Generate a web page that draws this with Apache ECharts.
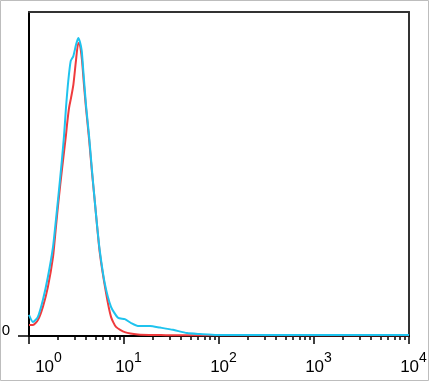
<!DOCTYPE html>
<html>
<head>
<meta charset="utf-8">
<script src="https://cdn.jsdelivr.net/npm/echarts@6/dist/echarts.min.js"></script>
<style>
html,body{margin:0;padding:0;background:#fff;}
#chart{width:429px;height:381px;}
</style>
</head>
<body>
<div id="chart"></div>
<script>
// Fluorescence intensity (x) and event count (y, % of axis height)
const cyanX = [1.0, 1.10, 1.24, 1.40, 1.58, 1.79, 1.92, 2.02, 2.22, 2.34, 2.45, 2.59, 2.75, 2.93, 3.12, 3.30, 3.44, 3.59, 3.73, 3.98, 4.28, 4.60, 4.91, 5.20, 5.55, 6.26, 7.30, 8.65, 10.2, 11.9, 14.0, 18.8, 23.9, 32.8, 46.0, 63.1, 95.3, 10000];
const cyanY = [6.5, 4.3, 5.9, 11.1, 18.2, 27.5, 35.8, 42.0, 54.3, 62.0, 70.4, 78.7, 84.9, 86.4, 89.8, 92.0, 90.7, 88.0, 81.8, 71.3, 62.0, 51.2, 42.0, 34.3, 26.5, 16.4, 9.0, 5.6, 5.2, 4.0, 3.1, 3.1, 2.6, 1.9, 0.9, 0.6, 0.3, 0.3];
const redX = [1.0, 1.10, 1.24, 1.40, 1.58, 1.79, 1.92, 2.05, 2.22, 2.45, 2.51, 2.64, 2.77, 2.93, 3.12, 3.30, 3.44, 3.61, 3.79, 3.98, 4.28, 4.60, 4.91, 5.55, 6.47, 7.30, 8.24, 10.2, 14.0, 23.9, 34.4, 10000];
const redY = [3.4, 3.4, 4.9, 9.0, 15.1, 24.4, 33.6, 42.0, 51.2, 62.0, 65.1, 70.4, 73.5, 77.5, 84.9, 90.4, 89.8, 85.2, 77.5, 70.4, 61.1, 50.6, 42.0, 25.9, 13.3, 5.9, 2.8, 1.2, 0.5, 0.3, 0.2, 0.2];
const majorTicks = [1, 10, 100, 1000, 10000];
const majorLabels = ['0', '1', '2', '3', '4'];
const minorTicks = [2, 3, 4, 5, 6, 7, 8, 9, 20, 30, 40, 50, 60, 70, 80, 90, 200, 300, 400, 500, 600, 700, 800, 900, 2000, 3000, 4000, 5000, 6000, 7000, 8000, 9000];
const yTicks = [0];
const yLabels = ['0'];

const pairs = (xs, ys) => xs.map((x, i) => [x, ys[i]]);
const font = 'Liberation Sans, Arial, sans-serif';

const chart = echarts.init(document.getElementById('chart'));
chart.setOption({
  animation: false,
  backgroundColor: '#fff',
  grid: { left: 29, right: 20, top: 12, bottom: 45, containLabel: false, outerBoundsMode: 'none' },
  graphic: [{
    type: 'rect', silent: true, z: 100,
    shape: { x: 0.5, y: 0.5, width: 428, height: 380 },
    style: { fill: 'none', stroke: '#bdbdbd', lineWidth: 1 }
  }],
  xAxis: [
    {
      type: 'log', logBase: 10, min: 1, max: 10000, position: 'bottom',
      axisLine: { show: true, onZero: false, lineStyle: { color: '#000', width: 2 } },
      axisTick: { show: true, inside: false, length: 8, customValues: majorTicks, lineStyle: { color: '#000', width: 1.5 } },
      axisLabel: {
        show: true, margin: 15, customValues: majorTicks,
        formatter: function (v) {
          const i = majorTicks.indexOf(v);
          const e = i >= 0 ? majorLabels[i] : '';
          return (i === 0 ? '{a0|10}' : '{a|10}') + '{s|' + e + '}';
        },
        rich: {
          a0: { fontFamily: font, fontSize: 17, color: '#000', padding: [8, 0, 0, 39], verticalAlign: 'bottom' },
          a: { fontFamily: font, fontSize: 17, color: '#000', padding: [8, 0, 0, 9], verticalAlign: 'bottom' },
          s: { fontFamily: font, fontSize: 14, color: '#000', verticalAlign: 'top' }
        }
      },
      splitLine: { show: false }, minorTick: { show: false }
    },
    {
      type: 'log', logBase: 10, min: 1, max: 10000, position: 'bottom',
      axisLine: { show: false, onZero: false },
      axisTick: { show: true, inside: false, length: 4, customValues: minorTicks, lineStyle: { color: '#000', width: 1.5 } },
      axisLabel: { show: false },
      splitLine: { show: false }
    },
    {
      type: 'log', logBase: 10, min: 1, max: 10000, position: 'top',
      axisLine: { show: true, onZero: false, lineStyle: { color: '#333', width: 2 } },
      axisTick: { show: false }, axisLabel: { show: false }, splitLine: { show: false }
    }
  ],
  yAxis: [
    {
      type: 'value', min: 0, max: 100, position: 'left',
      axisLine: { show: true, onZero: false, lineStyle: { color: '#000', width: 2 } },
      axisTick: { show: true, inside: false, length: 11, customValues: yTicks, lineStyle: { color: '#000', width: 1.5 } },
      axisLabel: {
        show: true, margin: 19, customValues: yTicks,
        formatter: function (v) { const i = yTicks.indexOf(v); return i >= 0 ? yLabels[i] : ''; },
        fontFamily: font, fontSize: 15, color: '#000', verticalAlign: 'bottom', lineHeight: 11
      },
      splitLine: { show: false }
    },
    {
      type: 'value', min: 0, max: 100, position: 'right',
      axisLine: { show: true, onZero: false, lineStyle: { color: '#333', width: 2 } },
      axisTick: { show: false }, axisLabel: { show: false }, splitLine: { show: false }
    }
  ],
  series: [
    {
      type: 'line', xAxisIndex: 0, yAxisIndex: 0, data: pairs(redX, redY),
      showSymbol: false, smooth: 0.2, z: 3,
      lineStyle: { color: '#ef3b3d', width: 2 }
    },
    {
      type: 'line', xAxisIndex: 0, yAxisIndex: 0, data: pairs(cyanX, cyanY),
      showSymbol: false, smooth: 0.2, z: 4,
      lineStyle: { color: '#1fc3ee', width: 2 }
    }
  ]
});
</script>
</body>
</html>
